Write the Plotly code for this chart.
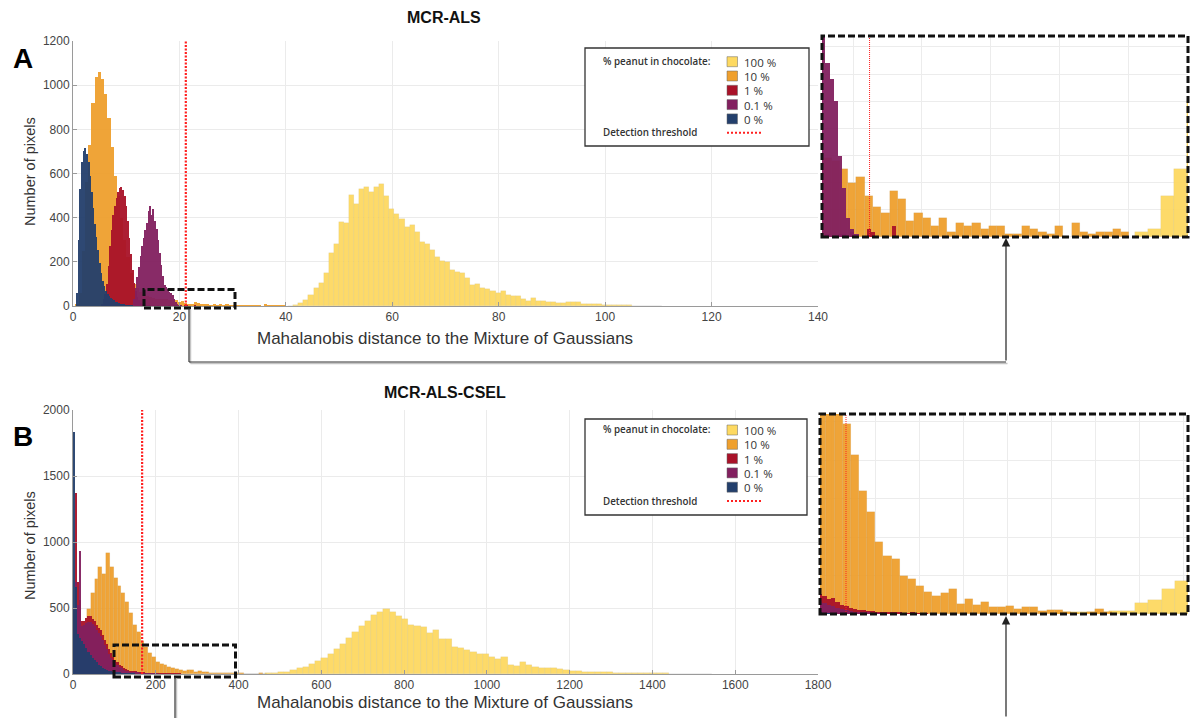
import numpy as np
import plotly.graph_objects as go

# ---------------- data: histogram counts per series ----------------
# Panel A (MCR-ALS): bin start, bin width, counts
a_yellow_start, a_yellow_width = 40.45, 0.95
a_yellow_counts = [2, 3, 15, 25, 50, 80, 106, 148, 239, 279, 379, 374, 504, 462, 528, 537, 518, 537,
                   551, 498, 438, 417, 394, 359, 367, 334, 291, 279, 254, 223, 204, 201, 163, 155,
                   148, 125, 95, 98, 83, 76, 68, 60, 69, 50, 47, 45, 30, 24, 35, 23, 24, 20, 17, 15,
                   15, 17, 17, 17, 11, 11, 9, 8, 6, 5, 4, 4, 3, 3, 2, 2, 1, 2, 1, 1]

a_orange_start, a_orange_width = 0.45, 0.6
a_orange_counts = [10, 60, 250, 560, 729, 920, 1039, 1061, 1030, 960, 850, 720, 590, 500, 400, 300,
                   220, 150, 100, 80, 65, 55, 45, 40, 36, 33, 31, 30, 30, 29, 28, 25, 20, 22, 15, 11,
                   9, 17, 14, 6, 9, 7, 4, 7, 2, 5, 4, 5, 3, 4, 4, 1, 1, 4, 3, 2, 1, 4, 0, 5, 2, 1, 2,
                   2, 3, 2]

a_red_start, a_red_width = 5.4, 0.3
a_red_counts = [10, 30, 55, 100, 180, 270, 345, 410, 455, 490, 518, 533, 540, 525, 497, 455, 385, 310,
                235, 165, 105, 68, 42, 25, 15, 9, 5, 3, 2, 1, 1, 0, 1, 0, 0, 1, 0, 0, 1, 0, 0, 0, 1,
                0, 0, 1, 1, 0, 2, 0, 0, 0, 3, 2, 0, 0, 0, 0, 4]

a_purple_start, a_purple_width = 11.4, 0.3
a_purple_counts = [30, 80, 130, 175, 225, 270, 310, 345, 375, 430, 455, 410, 440, 385, 350, 300, 240,
                   185, 135, 95, 85, 78, 64, 58, 50, 30, 18, 7, 3, 1]

a_blue_start, a_blue_width = 0.7, 0.3
a_blue_counts = [60, 300, 530, 650, 700, 714, 690, 650, 590, 515, 445, 372, 314, 255, 195, 150, 115,
                 90, 68, 55, 45, 38, 30, 25, 20, 16, 12, 9, 7, 5, 4, 3, 2, 1, 1]

a_threshold = 21.2

# Panel B (MCR-ALS-CSEL)
b_yellow_start, b_yellow_width = 405, 15
b_yellow_counts = [2, 3, 2, 3, 4, 4, 14, 18, 32, 43, 55, 75, 95, 120, 150, 190, 230, 275, 320, 365,
                   405, 445, 470, 490, 470, 440, 415, 375, 360, 355, 310, 335, 268, 262, 207, 195,
                   180, 170, 152, 150, 131, 112, 126, 68, 60, 88, 68, 56, 48, 48, 43, 40, 30, 25, 20,
                   18, 16, 14, 13, 12, 11, 10, 10, 9, 8, 6, 5, 5, 4, 3, 3, 3, 3, 2, 1, 1]

b_orange_start, b_orange_width = 6.0, 9.25
b_orange_counts = [80, 200, 350, 490, 610, 720, 813, 755, 914, 813, 730, 670, 610, 545, 465, 375, 315,
                   247, 207, 160, 132, 94, 75, 71, 50, 45, 37, 29, 24, 27, 32, 13, 20, 12, 16, 9, 9,
                   10, 7, 9, 9, 4, 5, 5, 3, 1, 0, 2, 7, 3]

b_red_start, b_red_width = 0, 5
b_red_counts = [500, 1370, 700, 560, 400, 405, 425, 438, 440, 420, 400, 375, 350, 330, 295, 260, 225,
                190, 160, 130, 105, 88, 72, 58, 45, 36, 30, 26, 24, 20, 21, 15, 12, 10, 8, 6, 5, 5,
                4, 4, 3, 3, 3, 2, 2, 2, 1, 1, 2, 1, 1, 1]

b_purple_start, b_purple_width = 0, 5
b_purple_counts = [300, 700, 520, 930, 360, 370, 385, 395, 396, 380, 360, 335, 310, 290, 255, 220, 190,
                   155, 125, 105, 85, 68, 55, 42, 34, 26, 21, 17, 14, 12, 10, 8, 6, 5, 4, 3, 3, 2, 2,
                   1, 1]

b_blue_start, b_blue_width = 0, 5
b_blue_counts = [1835, 660, 300, 275, 250, 225, 195, 165, 145, 120, 105, 90, 72, 58, 47, 38, 31, 25,
                 20, 17, 14, 11, 9, 7, 5, 4, 3, 2, 1, 1]

b_threshold = 167

legend_labels = ["100 %", "10 %", "1 %", "0.1 %", "0 %"]
series_colors = ["#FDD961", "#EFA02E", "#A91229", "#82205F", "#233F6C"]

# ---------------- helpers ----------------
W, H = 1192, 718


def PX(v):
    return v / W


def PY(v):
    return 1 - v / H


def bars(start, width, counts, color, xa, ya, edged):
    counts = np.asarray(counts, dtype=float)
    centers = start + width * (np.arange(len(counts)) + 0.5)
    edge = dict(width=0.5, color="rgba(0,0,0,0.09)") if edged else dict(width=0)
    return go.Bar(x=centers, y=counts, width=width, xaxis=xa, yaxis=ya,
                  marker=dict(color=color, line=edge),
                  opacity=0.95, showlegend=False, hoverinfo="skip")


fig = go.Figure()

panel_a = [(a_yellow_start, a_yellow_width, a_yellow_counts),
           (a_orange_start, a_orange_width, a_orange_counts),
           (a_red_start, a_red_width, a_red_counts),
           (a_purple_start, a_purple_width, a_purple_counts),
           (a_blue_start, a_blue_width, a_blue_counts)]
panel_b = [(b_yellow_start, b_yellow_width, b_yellow_counts),
           (b_orange_start, b_orange_width, b_orange_counts),
           (b_red_start, b_red_width, b_red_counts),
           (b_purple_start, b_purple_width, b_purple_counts),
           (b_blue_start, b_blue_width, b_blue_counts)]

# bar outlines only where the bars are wide enough on screen (yellow and orange)
for i, ((s, w, c), col) in enumerate(zip(panel_a, series_colors)):
    fig.add_trace(bars(s, w, c, col, "x", "y", edged=(i == 0)))
    fig.add_trace(bars(s, w, c, col, "x3", "y3", edged=(i <= 1)))
for i, ((s, w, c), col) in enumerate(zip(panel_b, series_colors)):
    fig.add_trace(bars(s, w, c, col, "x2", "y2", edged=(i <= 1)))
    fig.add_trace(bars(s, w, c, col, "x4", "y4", edged=(i <= 1)))

tick_font = dict(family="Liberation Sans, Arial, sans-serif", size=12, color="#444")
main_axis = dict(showline=True, linecolor="#9a9a9a", linewidth=1, ticks="inside", ticklen=4,
                 tickcolor="#9a9a9a", showgrid=True, gridcolor="#ebebeb", zeroline=False,
                 tickfont=tick_font, mirror=False, automargin=False)
inset_axis = dict(showline=False, ticks="", showticklabels=False, showgrid=True,
                  gridcolor="#ececec", zeroline=False, automargin=False)

fig.update_layout(
    width=W, height=H, margin=dict(l=0, r=0, t=0, b=0, pad=0, autoexpand=False),
    showlegend=False,
    paper_bgcolor="white", plot_bgcolor="white", barmode="overlay", bargap=0,
    xaxis=dict(main_axis, domain=[PX(73), PX(818)], anchor="y", range=[0, 140], dtick=20),
    yaxis=dict(main_axis, domain=[PY(306), PY(41)], anchor="x", range=[0, 1200], dtick=200),
    xaxis2=dict(main_axis, domain=[PX(73), PX(818)], anchor="y2", range=[0, 1800], dtick=200),
    yaxis2=dict(main_axis, domain=[PY(674), PY(410)], anchor="x2", range=[0, 2000], dtick=500),
    xaxis3=dict(inset_axis, domain=[PX(822), PX(1188)], anchor="y3", range=[17.75, 44.3], dtick=5),
    yaxis3=dict(inset_axis, domain=[PY(237), PY(36)], anchor="x3", range=[0, 74], dtick=10),
    xaxis4=dict(inset_axis, domain=[PX(820), PX(1188)], anchor="y4", range=[137.5, 555], dtick=50),
    yaxis4=dict(inset_axis, domain=[PY(614), PY(414)], anchor="x4", range=[0, 260], dtick=50),
)

shapes = []
# detection thresholds
shapes.append(dict(type="line", xref="x", yref="y domain", x0=a_threshold, x1=a_threshold, y0=0, y1=1,
                   line=dict(color="#FF2020", width=2.2, dash="2px,1.5px")))
shapes.append(dict(type="line", xref="x2", yref="y2 domain", x0=b_threshold, x1=b_threshold, y0=0, y1=1,
                   line=dict(color="#FF2020", width=2.2, dash="2px,1.5px")))
shapes.append(dict(type="line", xref="x3", yref="y3 domain", x0=a_threshold, x1=a_threshold, y0=0, y1=1,
                   line=dict(color="#FF2020", width=1, dash="1px,1px")))
shapes.append(dict(type="line", xref="x4", yref="y4 domain", x0=b_threshold, x1=b_threshold, y0=0, y1=1,
                   line=dict(color="#FF2020", width=1, dash="1px,1px")))

dash_line = dict(color="#111", width=3, dash="7px,3px")
# zoom frames in the main panels and around the insets
for (x0, y0, x1, y1) in [(144, 289.5, 235, 308), (114, 645, 235.5, 677),
                         (822, 36, 1188, 237), (820, 414, 1188, 614)]:
    shapes.append(dict(type="rect", xref="paper", yref="paper", x0=PX(x0), x1=PX(x1),
                       y0=PY(y1), y1=PY(y0), line=dash_line, fillcolor="rgba(0,0,0,0)"))

# connector lines between zoom frames and insets
conn = dict(color="#333", width=1.2)
shadow = dict(color="#c4c4c4", width=1.5)
for (xa, ya, xb, yb) in [(189, 308, 189, 362), (189, 362, 1006, 362), (175, 677, 175, 718)]:
    shapes.append(dict(type="line", xref="paper", yref="paper", x0=PX(xa + 1.5), x1=PX(xb + 1.5),
                       y0=PY(ya + 1.5), y1=PY(yb + 1.5), line=shadow))
    shapes.append(dict(type="line", xref="paper", yref="paper", x0=PX(xa), x1=PX(xb),
                       y0=PY(ya), y1=PY(yb), line=conn))

annotations = []
for (x, y_head, y_tail) in [(1006, 238, 362), (1006, 616, 718)]:
    annotations.append(dict(xref="paper", yref="paper", x=PX(x), y=PY(y_head), text="",
                            showarrow=True, ax=0, ay=y_tail - y_head, arrowhead=2, arrowsize=1.4,
                            arrowwidth=1.2, arrowcolor="#222", standoff=0))


# legend boxes
def legend_block(box, row0):
    bx0, by0, bx1, by1 = box
    shapes.append(dict(type="rect", xref="paper", yref="paper", x0=PX(bx0), x1=PX(bx1),
                       y0=PY(by1), y1=PY(by0), line=dict(color="#333", width=1.3),
                       fillcolor="white", layer="above"))
    small = dict(family="Open Sans, sans-serif", size=9.8, color="#333", weight=600)
    annotations.append(dict(xref="paper", yref="paper", x=PX(601), y=PY(row0),
                            text="% peanut in chocolate:", showarrow=False, xanchor="left",
                            yanchor="middle", font=small))
    for i, (lab, col) in enumerate(zip(legend_labels, series_colors)):
        cy = row0 + i * 14.3
        shapes.append(dict(type="rect", xref="paper", yref="paper", x0=PX(727), x1=PX(737.5),
                           y0=PY(cy + 5), y1=PY(cy - 5), line=dict(color="#666", width=0.5),
                           fillcolor=col, layer="above"))
        annotations.append(dict(xref="paper", yref="paper", x=PX(742), y=PY(cy + 0.5), text=lab,
                                showarrow=False, xanchor="left", yanchor="middle",
                                font=dict(family="Open Sans, sans-serif", size=11.5, color="#333")))
    dy = row0 + 71
    annotations.append(dict(xref="paper", yref="paper", x=PX(601), y=PY(dy),
                            text="Detection threshold", showarrow=False, xanchor="left",
                            yanchor="middle", font=small))
    shapes.append(dict(type="line", xref="paper", yref="paper", x0=PX(727), x1=PX(763),
                       y0=PY(dy), y1=PY(dy), line=dict(color="#FF2020", width=2, dash="2px,2px"),
                       layer="above"))


legend_block((585, 48, 809, 146), 61.7)
legend_block((585, 419, 807, 515), 430)

# titles and labels
title_font = dict(family="Liberation Sans, Arial, sans-serif", size=16, color="#111", weight="bold")
annotations += [
    dict(xref="paper", yref="paper", x=PX(444), y=PY(18), text="<b>MCR-ALS</b>", showarrow=False,
         xanchor="center", yanchor="middle", font=title_font),
    dict(xref="paper", yref="paper", x=PX(445), y=PY(392), text="<b>MCR-ALS-CSEL</b>", showarrow=False,
         xanchor="center", yanchor="middle", font=title_font),
    dict(xref="paper", yref="paper", x=PX(23), y=PY(58), text="<b>A</b>", showarrow=False,
         xanchor="center", yanchor="middle",
         font=dict(family="Liberation Sans, Arial, sans-serif", size=28, color="#000")),
    dict(xref="paper", yref="paper", x=PX(22.5), y=PY(436), text="<b>B</b>", showarrow=False,
         xanchor="center", yanchor="middle",
         font=dict(family="Liberation Sans, Arial, sans-serif", size=28, color="#000")),
]
axis_title_font = dict(family="Liberation Sans, Arial, sans-serif", size=17, color="#333")
for y in (338, 702):
    annotations.append(dict(xref="paper", yref="paper", x=PX(445), y=PY(y),
                            text="Mahalanobis distance to the Mixture of Gaussians", showarrow=False,
                            xanchor="center", yanchor="middle", font=axis_title_font))
for y in (171, 545):
    annotations.append(dict(xref="paper", yref="paper", x=PX(30), y=PY(y), text="Number of pixels",
                            showarrow=False, textangle=-90, xanchor="center", yanchor="middle",
                            font=dict(family="Liberation Sans, Arial, sans-serif", size=14.5,
                                      color="#333")))

fig.update_layout(shapes=shapes, annotations=annotations)
fig.write_html("out.html")
